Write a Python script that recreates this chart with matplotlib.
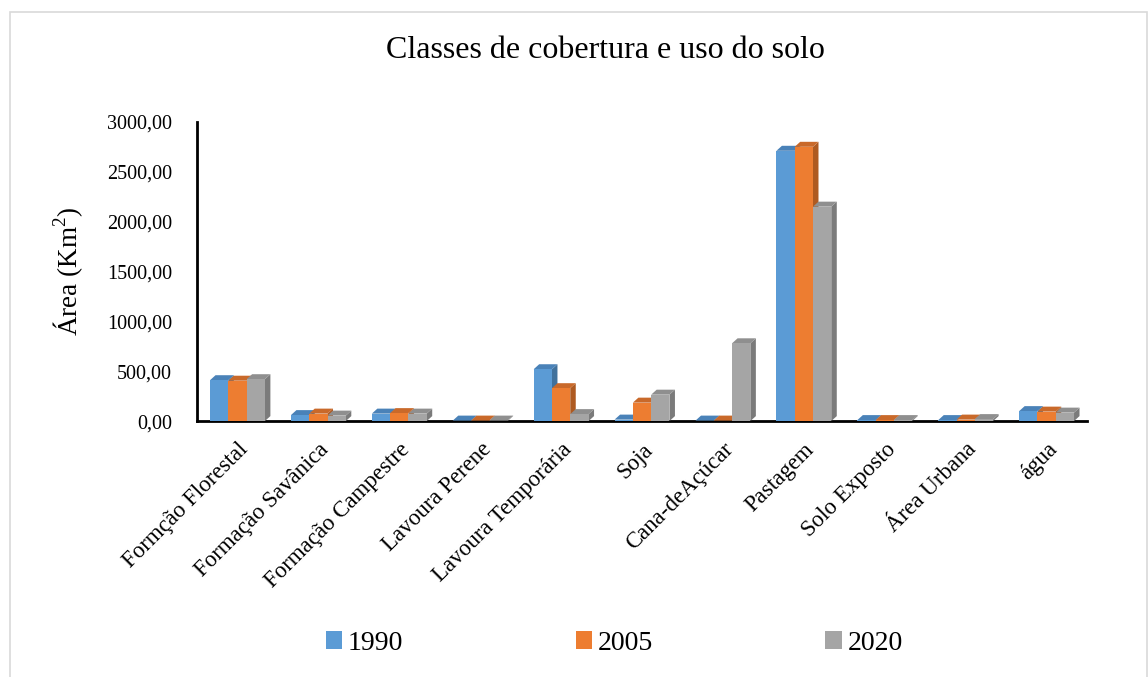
import numpy as np
import matplotlib.pyplot as plt
from matplotlib.patches import Polygon, Patch, Rectangle

categorias = ['Formção Florestal', 'Formação Savânica', 'Formação Campestre',
              'Lavoura Perene', 'Lavoura Temporária', 'Soja', 'Cana-deAçúcar',
              'Pastagem', 'Solo Exposto', 'Área Urbana', 'água']
anos = ['1990', '2005', '2020']
area_1990 = [410, 60, 75, 5, 520, 15, 5, 2710, 10, 10, 100]
area_2005 = [405, 75, 80, 5, 330, 185, 5, 2750, 10, 15, 95]
area_2020 = [420, 55, 75, 5, 70, 265, 780, 2150, 10, 20, 85]
series = [area_1990, area_2005, area_2020]

cor_frente = ['#5B9BD5', '#ED7D31', '#A5A5A5']
cor_lado = ['#41719C', '#AE5A21', '#7B7B7B']
cor_topo = ['#4A82B8', '#C9692A', '#8F8F8F']

plt.rcParams['font.family'] = ['Liberation Serif', 'DejaVu Serif']
plt.rcParams['mathtext.fontset'] = 'custom'
plt.rcParams['mathtext.rm'] = 'Liberation Serif'

fig = plt.figure(figsize=(11.48, 6.77), dpi=100)
fig.patches.append(Rectangle((0.009, -0.01), 0.99, 0.993, transform=fig.transFigure,
                             fill=False, edgecolor='#D9D9D9', linewidth=1.2))

ax = fig.add_axes([0.1716, 0.378, 0.7753, 0.442])

x = np.arange(len(categorias))
w = 0.226
dx, dy = 0.068, 50

for i, (serie, fc, sc, tc) in enumerate(zip(series, cor_frente, cor_lado, cor_topo)):
    pos = x + (i - 1) * w
    z = 3 + i
    ax.bar(pos, serie, width=w, color=fc, zorder=z + 0.5)
    for p, h in zip(pos, serie):
        xl, xr = p - w / 2, p + w / 2
        ax.add_patch(Polygon([(xr, 0), (xr + dx, dy), (xr + dx, h + dy), (xr, h)],
                             closed=True, facecolor=sc, edgecolor='none', zorder=z))
        ax.add_patch(Polygon([(xl, h), (xr, h), (xr + dx, h + dy), (xl + dx, h + dy)],
                             closed=True, facecolor=tc, edgecolor='none', zorder=z))

ax.set_xlim(-0.5, 10.5)
ax.set_ylim(0, 3000)
ax.set_yticks(np.arange(0, 3001, 500))
ax.set_yticklabels([f'{v:.2f}'.replace('.', ',') for v in np.arange(0, 3001, 500)], fontsize=14.5)
ax.set_xticks(x)
ax.set_xticklabels(categorias, rotation=45, ha='right', rotation_mode='anchor', fontsize=16.5)
ax.tick_params(axis='both', length=0)
ax.tick_params(axis='y', pad=18)
ax.tick_params(axis='x', pad=13)
for s in ['top', 'right']:
    ax.spines[s].set_visible(False)
ax.spines['left'].set_linewidth(2)
ax.spines['bottom'].set_linewidth(2)
ax.set_ylabel('Área (Km$^2$)', fontsize=19.5, labelpad=16)

fig.text(0.527, 0.925, 'Classes de cobertura e uso do solo', ha='center', va='center', fontsize=23)

handles = [Patch(facecolor=c, label=a) for c, a in zip(cor_frente, anos)]
fig.legend(handles=handles, loc='center', bbox_to_anchor=(0.535, 0.05), ncol=3, frameon=False,
           fontsize=20, handlelength=0.6, handleheight=0.6, handletextpad=0.2, columnspacing=6.2)

fig.savefig('out.png', dpi=100)
